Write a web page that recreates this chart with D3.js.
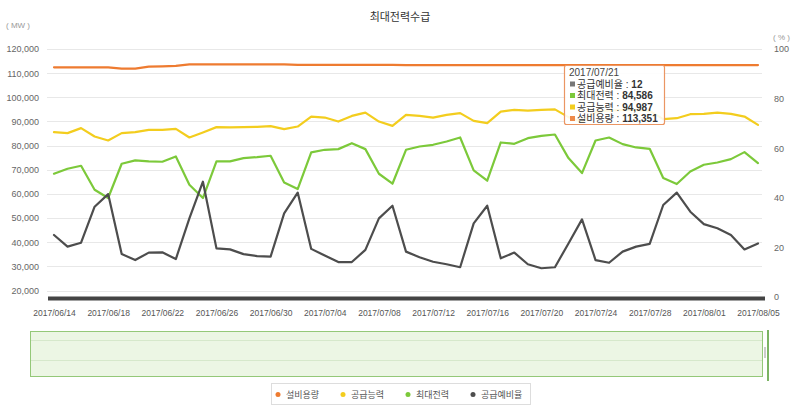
<!DOCTYPE html>
<html><head><meta charset="utf-8">
<script src="https://cdn.jsdelivr.net/npm/d3@7"></script>
<style>body{margin:0;background:#fff} svg{display:block}</style>
</head><body><svg id="c" width="800" height="411"></svg>
<script>
const title = "최대전력수급";
const startDate = "2017-06-14", endDate = "2017-08-05";
const tickLabels = ["2017/06/14","2017/06/18","2017/06/22","2017/06/26","2017/06/30","2017/07/04","2017/07/08","2017/07/12","2017/07/16","2017/07/20","2017/07/24","2017/07/28","2017/08/01","2017/08/05"];
const leftTicks = [20000,30000,40000,50000,60000,70000,80000,90000,100000,110000,120000];
const rightTicks = [0,20,40,60,80,100];
const seriesNames = ["설비용량","공급능력","최대전력","공급예비율"];
const seriesColors = ["#ee7b30","#f3cd1e","#7cc93a","#4d4d4d"];
// 설비용량 (MW)
const capacity = [112424,112424,112424,112424,112424,111873,111873,112700,112837,112975,113600,113600,113600,113600,113600,113600,113600,113600,113400,113400,113400,113400,113400,113400,113400,113400,113351,113351,113351,113351,113351,113351,113351,113351,113351,113351,113351,113351,113351,113351,113351,113351,113351,113351,113351,113351,113351,113351,113351,113351,113351,113351,113351];
// 공급능력 (MW)
const supply = [85579,85165,87231,83760,82121,85165,85579,86529,86529,86942,83361,85441,87645,87507,87645,87769,88058,86804,87892,92025,91612,89959,92300,93678,89959,88182,92727,92300,91612,92727,93430,90248,89297,94091,94793,94504,94793,94987,91800,89800,94000,94500,94800,94700,94400,90937,91350,93003,93140,93678,93140,92025,88595];
// 최대전력 (MW)
const peakDemand = [68347,70413,71653,61736,58292,72479,73857,73444,73306,75510,63802,58292,73444,73444,74821,75234,75785,64766,62011,77162,78264,78540,81020,78540,68347,64215,78264,79640,80331,81708,83361,69711,65455,81295,80744,83085,84050,84586,74821,68623,82121,83361,80606,79228,78678,66570,64092,69298,72066,73017,74408,77300,72755];
// 공급예비율 (%)
const reserveRate = [25.0,20.3,21.9,36.4,41.5,17.3,14.9,17.9,18.0,15.3,31.7,46.5,19.6,19.2,17.3,16.5,16.3,33.7,42.1,19.4,16.7,14.1,14.1,19.0,31.7,36.8,18.3,16.0,14.2,13.2,12.0,29.7,36.8,15.6,17.9,13.2,11.6,12.0,21.6,31.3,14.9,13.8,18.3,20.3,21.4,37.1,42.1,34.4,29.4,27.7,25.0,19.2,21.6];
const tooltipDate = "2017/07/21";

const FONT = "'Liberation Sans', Arial, 'Noto Sans CJK KR', sans-serif";
const KFONT = "'Noto Sans CJK KR', 'Liberation Sans', sans-serif";
const svg = d3.select("#c");
const pd = d3.timeParse("%Y-%m-%d"), ps = d3.timeParse("%Y/%m/%d");
const dates = d3.timeDay.range(pd(startDate), d3.timeDay.offset(pd(endDate),1));
const x = d3.scaleTime().domain([pd(startDate), pd(endDate)]).range([54, 758]);
const yL = d3.scaleLinear().domain([20000,120000]).range([290.5,49]);
const yR = d3.scaleLinear().domain([0,100]).range([297,49]);

// title and units
svg.append("text").attr("x",400).attr("y",21).attr("text-anchor","middle")
  .style("font-family",KFONT).style("font-size","11px").attr("fill","#333").text(title);
svg.append("text").attr("x",6).attr("y",28).style("font-family",FONT).style("font-size","8px").attr("fill","#999").text("( MW )");
svg.append("text").attr("x",773).attr("y",40).style("font-family",FONT).style("font-size","8px").attr("fill","#999").text("( % )");

// gridlines
svg.append("g").selectAll("line").data(leftTicks).join("line")
  .attr("x1",47).attr("x2",762).attr("y1",d=>Math.round(yL(d))+0.5).attr("y2",d=>Math.round(yL(d))+0.5)
  .attr("stroke","#e8e8e8").attr("stroke-width",1);

// left axis
const gl = svg.append("g").attr("transform","translate(39,0)")
  .call(d3.axisLeft(yL).tickValues(leftTicks).tickFormat(d3.format(",")).tickSize(0).tickPadding(0));
gl.select(".domain").remove();
gl.selectAll("text").style("font-family",FONT).style("font-size","9px").attr("fill","#666");

// right axis
const gr = svg.append("g").attr("transform","translate(774,0)")
  .call(d3.axisRight(yR).tickValues(rightTicks).tickSize(0).tickPadding(0));
gr.select(".domain").remove();
gr.selectAll("text").style("font-family",FONT).style("font-size","9px").attr("fill","#666");

// bottom thick bar
svg.append("rect").attr("x",48).attr("y",296.5).attr("width",717).attr("height",4).attr("fill","#444");

// x axis
const gx = svg.append("g").attr("transform","translate(0,308)")
  .call(d3.axisBottom(x).tickValues(tickLabels.map(ps)).tickFormat(d3.timeFormat("%Y/%m/%d")).tickSize(0).tickPadding(2));
gx.select(".domain").remove();
gx.selectAll("text").style("font-family",FONT).style("font-size","8.5px").attr("fill","#555");

// lines
const lineL = d3.line().x((d,i)=>x(dates[i])).y(d=>yL(d));
const lineR = d3.line().x((d,i)=>x(dates[i])).y(d=>yR(d));
const series = [[capacity,lineL],[supply,lineL],[peakDemand,lineL],[reserveRate,lineR]];
series.forEach(([vals,gen],k)=>{
  svg.append("path").datum(vals).attr("d",gen).attr("fill","none")
    .attr("stroke",seriesColors[k]).attr("stroke-width",2.2)
    .attr("stroke-linejoin","round").attr("stroke-linecap","round");
});

// tooltip
const ti = dates.findIndex(d=>+d===+ps(tooltipDate));
const tip = svg.append("g");
tip.append("rect").attr("x",564.5).attr("y",65.5).attr("width",100).attr("height",59).attr("rx",2)
  .attr("fill","rgba(255,255,255,0.88)").attr("stroke","#eb9663").attr("stroke-width",1.2);
tip.append("text").attr("x",569).attr("y",75.5).style("font-family",FONT).style("font-size","10px").attr("fill","#444").text(tooltipDate);
const rows = [
  [seriesNames[3], d3.format(",")(Math.round(reserveRate[ti])), "#777"],
  [seriesNames[2], d3.format(",")(peakDemand[ti]), seriesColors[2]],
  [seriesNames[1], d3.format(",")(supply[ti]), seriesColors[1]],
  [seriesNames[0], d3.format(",")(capacity[ti]), "#ee8a4a"]
];
const rowY = [87.5, 99, 110.5, 122];
rows.forEach((r,k)=>{
  tip.append("rect").attr("x",570).attr("y",rowY[k]-6).attr("width",5).attr("height",5).attr("fill",r[2]);
  const t = tip.append("text").attr("x",577).attr("y",rowY[k]).style("font-family",FONT).style("font-size","10px").attr("fill","#333");
  t.append("tspan").text(r[0]+" : ");
  t.append("tspan").style("font-weight","bold").text(r[1]);
});

// navigator
const nav = svg.append("g");
nav.append("rect").attr("x",30.5).attr("y",331.5).attr("width",732).attr("height",45)
  .attr("fill","#ecf6e4").attr("stroke","#94c878").attr("stroke-width",1);
[340.5,360.5].forEach(yy=>nav.append("line").attr("x1",31).attr("x2",762).attr("y1",yy).attr("y2",yy).attr("stroke","#d6e8cb"));
nav.append("rect").attr("x",764).attr("y",347).attr("width",2).attr("height",11).attr("fill","#ccc");
nav.append("line").attr("x1",768).attr("x2",768).attr("y1",330).attr("y2",381).attr("stroke","#4f9a2f").attr("stroke-width",1.5);

// legend
const lg = svg.append("g");
lg.append("rect").attr("x",271.5).attr("y",383.5).attr("width",259).attr("height",21).attr("fill","#fff").attr("stroke","#ddd");
seriesNames.forEach((n,k)=>{
  const lx = 278 + 65*k;
  lg.append("circle").attr("cx",lx).attr("cy",394.5).attr("r",2.5).attr("fill",seriesColors[k]);
  lg.append("text").attr("x",lx+8).attr("y",398).style("font-family",KFONT).style("font-size","9px").attr("fill","#555").text(n);
});
</script></body></html>
